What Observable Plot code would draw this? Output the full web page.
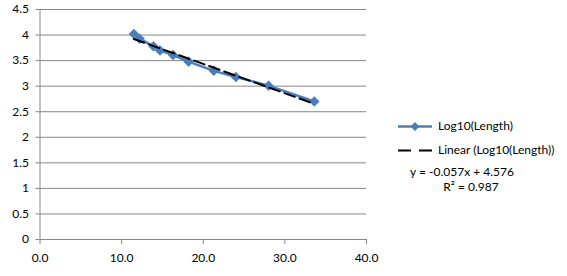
<!DOCTYPE html>
<html>
<head>
<meta charset="utf-8">
<script src="https://cdn.jsdelivr.net/npm/d3@7"></script>
<script src="https://cdn.jsdelivr.net/npm/@observablehq/plot@0.6"></script>
<style>
  html, body { margin: 0; padding: 0; background: #fff; }
  #wrap { position: relative; width: 567px; height: 276px; font-family: Lato, "Open Sans", sans-serif; }
  #wrap svg { display: block; }
  .leg { position: absolute; font-size: 12px; color: #000; white-space: nowrap; }
</style>
</head>
<body>
<div id="wrap"></div>
<script>
const xValues = [11.5, 12.2, 13.9, 14.7, 16.3, 18.2, 21.3, 24.0, 28.0, 33.6];
const yValues = [4.02, 3.93, 3.78, 3.70, 3.61, 3.48, 3.30, 3.18, 3.01, 2.70];
const seriesName = "Log10(Length)";
const trendName = "Linear (Log10(Length))";
const equationText = "y = -0.057x + 4.576";
const r2Text = "R² = 0.987";
const yTicks = [0, 0.5, 1, 1.5, 2, 2.5, 3, 3.5, 4, 4.5];
const xTicks = [0, 10, 20, 30, 40];

const data = xValues.map((x, i) => ({x, y: yValues[i]}));
const blue = "#4A7EBB";
const grid = "#868686";

const chart = Plot.plot({
  width: 567,
  height: 276,
  marginLeft: 39.5,
  marginRight: 201,
  marginTop: 9,
  marginBottom: 37,
  style: {fontFamily: "Lato, 'Open Sans', sans-serif", fontSize: "12px", background: "#fff", color: "#000"},
  x: {domain: [0, 40]},
  y: {domain: [0, 4.5]},
  marks: [
    Plot.ruleY(yTicks, {stroke: grid, strokeWidth: 1}),
    Plot.ruleX([0], {stroke: grid, strokeWidth: 1}),
    Plot.axisY({ticks: yTicks, tickFormat: d => String(d), tickSize: 4, tickPadding: 7, stroke: grid, strokeOpacity: 1, label: null}),
    Plot.axisX({ticks: xTicks, tickFormat: d => d.toFixed(1), tickSize: 5, tickPadding: 9, stroke: grid, strokeOpacity: 1, label: null}),
    Plot.line(data, {x: "x", y: "y", stroke: blue, strokeWidth: 2.5}),
    Plot.dot(data, {x: "x", y: "y", symbol: "diamond2", r: 4.5, fill: blue, stroke: blue, strokeWidth: 0.5}),
    Plot.linearRegressionY(data, {x: "x", y: "y", ci: 0, stroke: "#000", strokeWidth: 2, strokeDasharray: "11,5"})
  ]
});
const wrap = document.getElementById("wrap");
wrap.appendChild(chart);

// legend overlay
const ns = "http://www.w3.org/2000/svg";
const g = document.createElementNS(ns, "g");
g.innerHTML = `
  <line x1="398" y1="126.5" x2="432" y2="126.5" stroke="${blue}" stroke-width="2.5"/>
  <path d="M415,122 L419.5,126.5 L415,131 L410.5,126.5 Z" fill="${blue}"/>
  <line x1="398" y1="150.5" x2="432" y2="150.5" stroke="#000" stroke-width="2" stroke-dasharray="13,8"/>
`;
chart.appendChild(g);

function addText(txt, left, top, align) {
  const d = document.createElement("div");
  d.className = "leg";
  d.textContent = txt;
  d.style.top = top + "px";
  if (align === "center") { d.style.left = left + "px"; d.style.transform = "translateX(-50%)"; }
  else d.style.left = left + "px";
  wrap.appendChild(d);
}
addText(seriesName, 438, 118);
addText(trendName, 438, 142);
addText(equationText, 462, 164, "center");
addText(r2Text, 471, 179, "center");
</script>
</body>
</html>
